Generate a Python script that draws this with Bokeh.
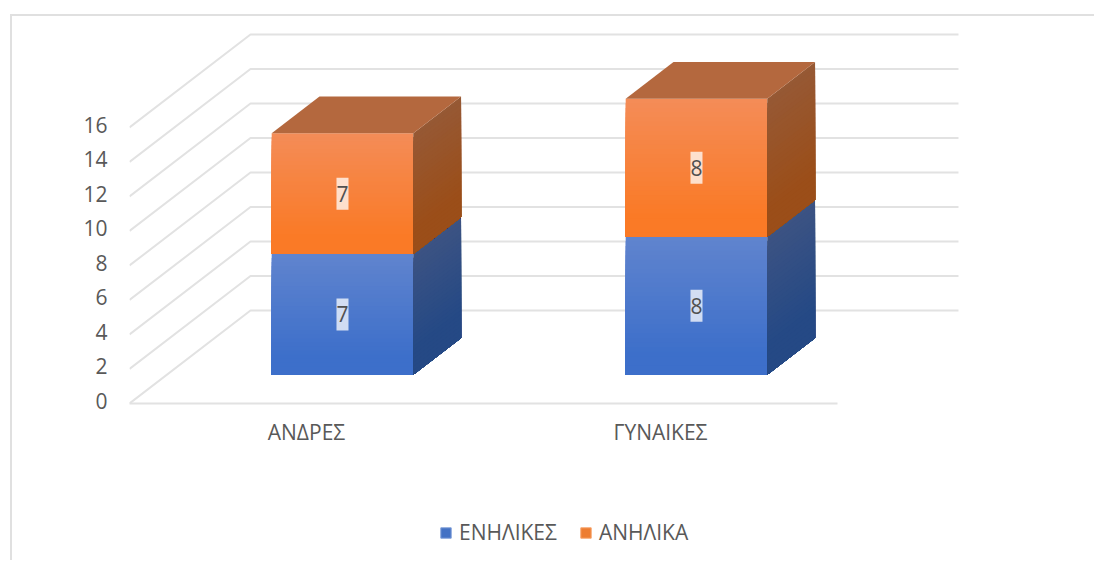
from bokeh.plotting import figure
from bokeh.layouts import column
from bokeh.models import Range1d, FixedTicker, Legend, LegendItem, LinearAxis
from bokeh.core.properties import value
from bokeh.embed import file_html
from bokeh.resources import INLINE

categories = ["ΑΝΔΡΕΣ", "ΓΥΝΑΙΚΕΣ"]
adults = [7, 8]
minors = [7, 8]
y_ticks = [0, 2, 4, 6, 8, 10, 12, 14, 16]
series_names = ["ΕΝΗΛΙΚΕΣ", "ΑΝΗΛΙΚΑ"]

# pixel scale and oblique projection of the 3-D chart
PX_X, PX_Y = 354.0, 17.25
DEPTH_X, DEPTH_Y = 121.0 / PX_X, 93.0 / PX_Y
BAR_W, D0, D1 = 0.4, 0.309, 0.704
BAR_SHIFT = -1.4 / PX_X
LABEL_LIFT = 3 / PX_Y
FONT = "Open Sans"
TXT = "#595959"
GRID = "#e2e2e2"
W, H, H2 = 1084, 494, 52
LEFT, BOTTOM = 117, 107

def proj(x, v, d):
    return x + d * DEPTH_X, v + d * DEPTH_Y

def mix(a, b, t):
    t = min(max(t, 0), 1)
    ca = [int(a[i:i+2], 16) for i in (1, 3, 5)]
    cb = [int(b[i:i+2], 16) for i in (1, 3, 5)]
    return "#%02x%02x%02x" % tuple(round(p + (q - p) * t) for p, q in zip(ca, cb))

y_top = (H - BOTTOM) / PX_Y
p = figure(width=W, height=H, output_backend="svg", toolbar_location=None,
           y_axis_location=None,
           x_range=Range1d(0, (W - LEFT) / PX_X), y_range=Range1d(0, y_top),
           min_border_left=LEFT, min_border_right=0, min_border_top=0, min_border_bottom=BOTTOM,
           outline_line_color=None, background_fill_color="white", border_fill_color="white")
p.grid.visible = False

# value axis sits on its own range: its labels stand slightly above the wall lines
p.extra_y_ranges = {"labels": Range1d(-LABEL_LIFT, y_top - LABEL_LIFT)}
yaxis = LinearAxis(y_range_name="labels", ticker=FixedTicker(ticks=y_ticks),
                   axis_line_color=None, major_tick_line_color=None, minor_tick_line_color=None,
                   major_label_standoff=16, major_label_text_font=FONT,
                   major_label_text_font_size="21px", major_label_text_color=TXT)
p.add_layout(yaxis, "left")

n = len(categories)
p.xaxis.ticker = FixedTicker(ticks=[i + 0.5 for i in range(n)])
p.xaxis.major_label_overrides = {i + 0.5: c for i, c in enumerate(categories)}
p.xaxis.bounds = (0, n)
p.xaxis.axis_line_color = GRID
p.xaxis.axis_line_width = 2
p.xaxis.major_tick_line_color = None
p.xaxis.minor_tick_line_color = None
p.xaxis.major_label_standoff = 8
p.xaxis.major_label_text_font = FONT
p.xaxis.major_label_text_font_size = "21px"
p.xaxis.major_label_text_color = TXT

# walls
xs, ys = [], []
for t in y_ticks:
    fx, fy = proj(0, t, 0)
    bx, by = proj(0, t, 1)
    ex, ey = proj(n, t, 1)
    xs.append([fx, bx, ex])
    ys.append([fy, by, ey])
p.multi_line(xs, ys, line_color=GRID, line_width=2)

# stacked boxes with vertical gradients made of thin overlapping strips
STYLES = [
    dict(front=("#6084ce", "#3d6fca"), side=("#3c5383", "#254985"), top="#3f5c94"),
    dict(front=("#f48c58", "#fa7a26"), side=("#965935", "#9b4e19"), top="#b4683e"),
]
STRIPS = 30

def box(x0, v0, v1, st, draw_top):
    x1 = x0 + BAR_W
    fxs, fys, fcs, sxs, sys_, scs = [], [], [], [], [], []
    for k in range(STRIPS):
        a = v1 + (v0 - v1) * k / STRIPS
        t = (k + 0.5) / STRIPS
        pts = [proj(x0, a, D0), proj(x1, a, D0), proj(x1, v0, D0), proj(x0, v0, D0)]
        fxs.append([q[0] for q in pts]); fys.append([q[1] for q in pts])
        fcs.append(mix(*st["front"], t / 0.85))
        pts = [proj(x1, a, D0), proj(x1, a, D1), proj(x1, v0, D1), proj(x1, v0, D0)]
        sxs.append([q[0] for q in pts]); sys_.append([q[1] for q in pts])
        scs.append(mix(*st["side"], t / 0.8))
    p.patches(fxs, fys, fill_color=fcs, line_color=None)
    p.patches(sxs, sys_, fill_color=scs, line_color=None)
    if draw_top:
        pts = [proj(x0, v1, D0), proj(x1, v1, D0), proj(x1, v1, D1), proj(x0, v1, D1)]
        p.patch([q[0] for q in pts], [q[1] for q in pts], fill_color=st["top"], line_color=None)

lx, ly, lt = [], [], []
for i in range(n):
    c = i + 0.5 + BAR_SHIFT
    box(c - BAR_W / 2, 0, adults[i], STYLES[0], False)
    box(c - BAR_W / 2, adults[i], adults[i] + minors[i], STYLES[1], True)
    for v, val in ((adults[i] / 2, adults[i]), (adults[i] + minors[i] / 2, minors[i])):
        cx, cy = proj(c, v, D0)
        lx.append(cx); ly.append(cy); lt.append(str(val))

p.text(lx, ly, text=lt, text_align="center", text_baseline="middle",
       text_font=value(FONT), text_font_size="21px", text_color="#505050",
       background_fill_color="white", background_fill_alpha=0.75, padding=(0, 8))

# legend in its own strip under the chart; its key boxes lie outside the strip's visible range
q = figure(width=W, height=H2, output_backend="svg", toolbar_location=None,
           x_axis_location=None, y_axis_location=None,
           x_range=Range1d(0, 1), y_range=Range1d(0, 1),
           min_border=0, outline_line_color=None,
           background_fill_color="white", border_fill_color="white")
q.grid.visible = False
r0 = q.quad(left=[2], right=[3], top=[3], bottom=[2], fill_color="#4472c4", line_color="#7f9fd8")
r1 = q.quad(left=[2], right=[3], top=[3], bottom=[2], fill_color="#ed7d31", line_color="#f7a46c")
legend = Legend(items=[LegendItem(label=series_names[0], renderers=[r0]),
                       LegendItem(label=series_names[1], renderers=[r1])],
                orientation="horizontal", location=(310, 16),
                glyph_width=13, glyph_height=13, label_standoff=7, spacing=22,
                padding=0, margin=0, background_fill_alpha=0, border_line_color=None,
                label_text_font=FONT, label_text_font_size="21px", label_text_color=TXT)
q.add_layout(legend, "center")

page = column(p, q, spacing=0)
page.margin = (16, 0, 0, 12)
page.styles = {"box-shadow": "-2px -2px 0 0 #e0e0e0"}

open("out.html", "w").write(file_html(page, INLINE))
